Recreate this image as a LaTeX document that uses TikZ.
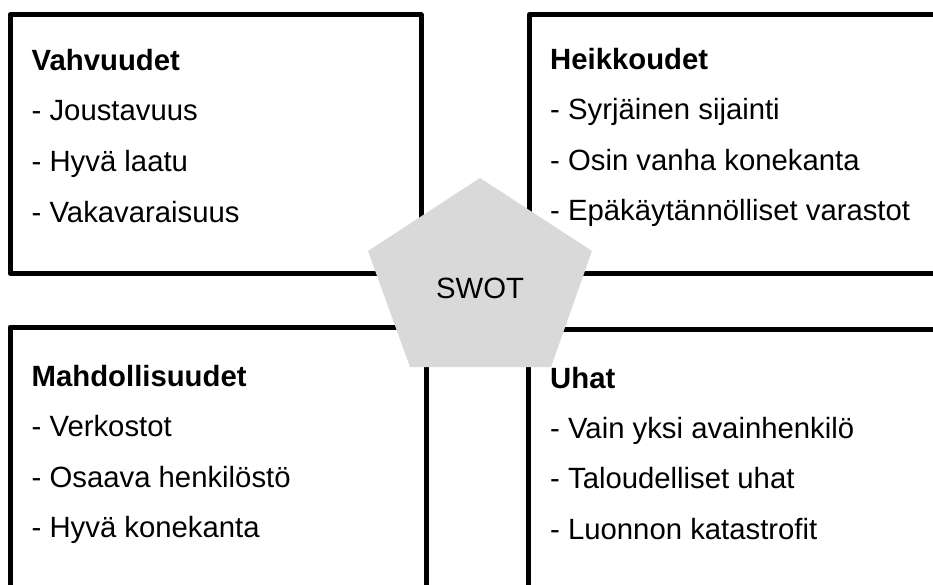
\documentclass[tikz,border=0pt]{standalone}
\usepackage{fontspec}
\setmainfont{Liberation Sans}
\definecolor{swotgray}{RGB}{217,217,217}
\begin{document}
\begin{tikzpicture}[x=1pt,y=-1pt,
  box/.style={draw=black, line width=5pt, line join=round},
  txt/.style={anchor=base west, inner sep=0pt, font=\fontsize{29.3}{35}\selectfont},
  head/.style={anchor=base west, inner sep=0pt, font=\fontsize{29.3}{35}\selectfont\bfseries},
  penta/.style={fill=swotgray, draw=none}]
\useasboundingbox (0,0) rectangle (933,585);
\clip (0,0) rectangle (933,585);
% boxes
\draw[box] (10,15) rectangle (421,273);
\draw[box] (529.5,14.5) rectangle (945,273);
\draw[box] (10,327) rectangle (426.5,600);
\draw[box] (528.5,329.5) rectangle (945,600);
% Vahvuudet
\node[head] (s0) at (31.5,71) {Vahvuudet};
\node[txt] (s1) at (31.5,121) {- Joustavuus};
\node[txt] (s2) at (31.5,172) {- Hyvä laatu};
\node[txt] (s3) at (31.5,222.5) {- Vakavaraisuus};
% Heikkoudet
\node[head] (w0) at (550,70) {Heikkoudet};
\node[txt] (w1) at (550,119.5) {- Syrjäinen sijainti};
\node[txt] (w2) at (550,170.5) {- Osin vanha konekanta};
\node[txt] (w3) at (550,221) {- Epäkäytännölliset varastot};
% Mahdollisuudet
\node[head] (o0) at (31.5,386) {Mahdollisuudet};
\node[txt] (o1) at (31.5,436) {- Verkostot};
\node[txt] (o2) at (31.5,487) {- Osaava henkilöstö};
\node[txt] (o3) at (31.5,537.5) {- Hyvä konekanta};
% Uhat
\node[head] (t0) at (550,388) {Uhat};
\node[txt] (t1) at (550,438) {- Vain yksi avainhenkilö};
\node[txt] (t2) at (550,488.5) {- Taloudelliset uhat};
\node[txt] (t3) at (550,539) {- Luonnon katastrofit};
% pentagon
\fill[penta] (480,178) -- (592,251) -- (551,367) -- (410,367) -- (368,251) -- cycle;
\node[txt, anchor=base] (swot) at (480,298) {SWOT};
\end{tikzpicture}
\end{document}
